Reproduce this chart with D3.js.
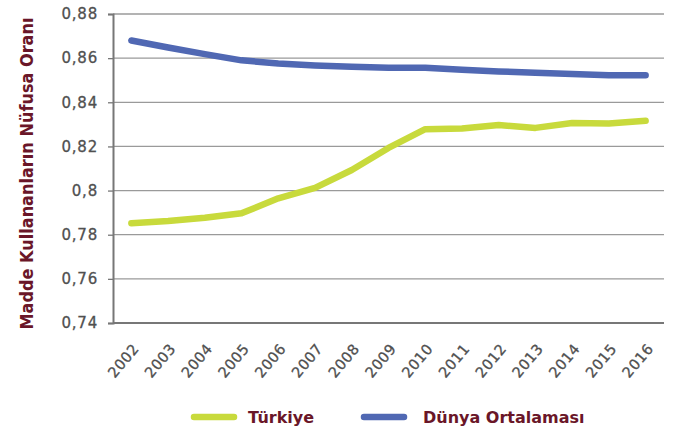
<!DOCTYPE html>
<html>
<head>
<meta charset="utf-8">
<script src="https://cdn.jsdelivr.net/npm/d3@7"></script>
<style>
  body { margin: 0; background: #fff; }
  text { font-family: "DejaVu Sans", sans-serif; }
</style>
</head>
<body>
<svg width="681" height="430"></svg>
<script>
const years = ["2002","2003","2004","2005","2006","2007","2008","2009","2010","2011","2012","2013","2014","2015","2016"];
const turkiye = [0.7852,0.7862,0.7877,0.7897,0.7965,0.8012,0.8093,0.8193,0.8278,0.8281,0.8297,0.8284,0.8306,0.8304,0.8316];
const dunya = [0.8680,0.8648,0.8618,0.8590,0.8576,0.8567,0.8561,0.8556,0.8557,0.8547,0.8540,0.8534,0.8528,0.8522,0.8523];
const yTicks = [0.74,0.76,0.78,0.80,0.82,0.84,0.86,0.88];
const seriesNames = ["Türkiye","Dünya Ortalaması"];
const colors = ["#c8da3c","#5068b3"];

const svg = d3.select("svg");
const pLeft = 113, pRight = 664, pTop = 14, pBottom = 323;

const x = d3.scalePoint().domain(years).range([pLeft, pRight]).padding(0.5);
const y = d3.scaleLinear().domain([0.74, 0.88]).range([pBottom, pTop]);

const fmt = d => d === 0.8 ? "0,8" : d3.format(".2f")(d).replace(".", ",");

// grid
svg.append("g")
  .selectAll("line")
  .data(yTicks.slice(1))
  .enter()
  .append("line")
  .attr("x1", pLeft).attr("x2", pRight)
  .attr("y1", d => y(d)).attr("y2", d => y(d))
  .attr("stroke", "#9a9a9a")
  .attr("stroke-width", 1.3);

// y axis
const yAxis = d3.axisLeft(y).tickValues(yTicks).tickFormat(fmt).tickSize(5).tickPadding(10);
const gy = svg.append("g").attr("transform", "translate(" + pLeft + ",0)").call(yAxis);
gy.select(".domain").attr("stroke", "#777").attr("stroke-width", 2);
gy.selectAll(".tick line").attr("stroke", "#777").attr("stroke-width", 1.3);
gy.selectAll("text")
  .attr("fill", "#505050").attr("font-size", 15).attr("letter-spacing", 0.8)
  .attr("stroke", "#505050").attr("stroke-width", 0.3);

// x axis
const xAxis = d3.axisBottom(x).tickSize(0).tickPadding(0);
const gx = svg.append("g").attr("transform", "translate(0," + pBottom + ")").call(xAxis);
gx.select(".domain").attr("stroke", "#777").attr("stroke-width", 2).attr("d", "M" + pLeft + ",0H" + pRight);
gx.selectAll("text")
  .attr("fill", "#505050").attr("font-size", 14.5).attr("letter-spacing", 0.5)
  .attr("stroke", "#505050").attr("stroke-width", 0.3)
  .attr("text-anchor", "end")
  .attr("dy", 0)
  .attr("transform", "translate(8,26) rotate(-50)");

// y title
svg.append("text")
  .attr("transform", "translate(33," + ((pTop + pBottom) / 2 + 5) + ") rotate(-90)")
  .attr("text-anchor", "middle")
  .attr("fill", "#6a1628")
  .attr("font-size", 17)
  .attr("font-weight", 700)
  .attr("font-family", "'DejaVu Sans Condensed', sans-serif")
  .attr("textLength", 312)
  .attr("lengthAdjust", "spacingAndGlyphs")
  .text("Madde Kullananların Nüfusa Oranı");

// lines
const line = d3.line().x((d, i) => x(years[i])).y(d => y(d)).curve(d3.curveLinear);
[turkiye, dunya].forEach((s, k) => {
  svg.append("path")
    .datum(s)
    .attr("d", line)
    .attr("fill", "none")
    .attr("stroke", colors[k])
    .attr("stroke-width", 6.5)
    .attr("stroke-linecap", "round")
    .attr("stroke-linejoin", "round");
});

// legend
const legendX = [194, 364];
seriesNames.forEach((n, k) => {
  const g = svg.append("g").attr("transform", "translate(" + legendX[k] + ",417)");
  g.append("line").attr("x1", 0).attr("x2", 40).attr("y1", 0).attr("y2", 0)
    .attr("stroke", colors[k]).attr("stroke-width", 6.5).attr("stroke-linecap", "round");
  g.append("text").attr("x", k === 0 ? 54 : 59).attr("y", 6)
    .attr("fill", "#6a1628").attr("font-size", 16).attr("font-weight", 700)
    .text(n);
});
</script>
</body>
</html>
